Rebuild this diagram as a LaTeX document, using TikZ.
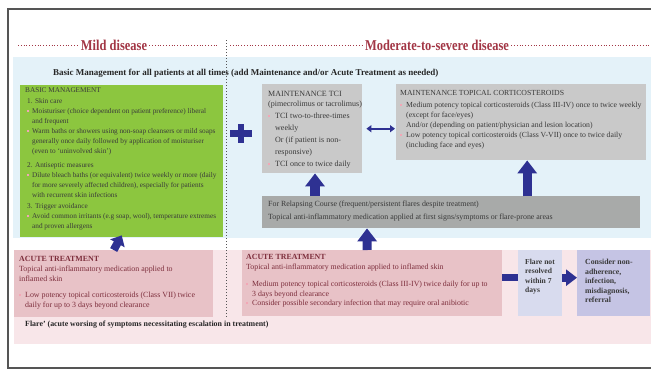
\documentclass[tikz,border=0pt]{standalone}
\usepackage{fontspec}
\usepackage{graphicx}
\setmainfont{Liberation Serif}
\usetikzlibrary{arrows.meta,calc}
\definecolor{framec}{HTML}{555555}
\definecolor{bluebg}{HTML}{E4F2F9}
\definecolor{greenc}{HTML}{8CC63F}
\definecolor{grayc}{HTML}{C9C9C9}
\definecolor{relc}{HTML}{A8AAA9}
\definecolor{pinkbg}{HTML}{F8E6E9}
\definecolor{acutec}{HTML}{E8C2C7}
\definecolor{lavA}{HTML}{D8DBEE}
\definecolor{lavB}{HTML}{C5C4E4}
\definecolor{navy}{HTML}{2E3192}
\definecolor{hdrred}{HTML}{A23645}
\definecolor{maroon}{HTML}{7D2E3C}
\definecolor{textc}{HTML}{3A3A3A}
\definecolor{bulc}{HTML}{F2A7B6}
\newcommand{\mybul}[1][5pt]{\makebox[#1][l]{\textcolor{bulc}{\rule[0.3ex]{2pt}{2pt}}}}
\newcommand{\hdrtext}[1]{\scalebox{0.83}[1]{#1}}
\begin{document}
\begin{tikzpicture}[x=1pt,y=-1pt,
  region/.style={draw=none,anchor=north west,inner sep=0pt},
  box/.style={draw=none,anchor=north west,inner sep=0pt},
  txt/.style={anchor=north west,inner sep=0pt,align=left,text=textc},
  hdr/.style={inner sep=2pt,text=hdrred,font=\fontsize{15}{16}\selectfont\bfseries},
  hdrdot/.style={draw=hdrred,dotted,line width=0.8pt},
  vdot/.style={draw=framec,dotted,line width=1pt},
  blockarrow/.style={draw=navy},
]
\useasboundingbox (0,0) rectangle (651,378);
% frame
\draw[framec,line width=1.2pt] (651,9) -- (8,9) -- (8,368) -- (651,368);

% background regions
\node[region,fill=bluebg,minimum width=638pt,minimum height=181pt] (blue) at (13,57) {};
\node[region,fill=pinkbg,minimum width=637pt,minimum height=94pt] (pink) at (14,250) {};

% headers
\node[hdr] (mild) at (114,45) {\hdrtext{Mild disease}};
\node[hdr] (mod) at (437,45) {\hdrtext{Moderate-to-severe disease}};
\coordinate (hl1) at (18,45);
\coordinate (hl2) at (218,45);
\coordinate (hr1) at (230,45);
\coordinate (hr2) at (651,45);
\draw[hdrdot] (hl1) -- (mild.west);
\draw[hdrdot] (mild.east) -- (hl2);
\draw[hdrdot] (hr1) -- (mod.west);
\draw[hdrdot] (mod.east) -- (hr2);

% title of basic management
\node[anchor=west,inner sep=0pt,text=black!85,font=\fontsize{9}{10}\selectfont\bfseries] (basic) at (53,73)
  {Basic Management for all patients at all times (add Maintenance and/or Acute Treatment as needed)};

% boxes
\node[box,fill=greenc,minimum width=203pt,minimum height=152pt] (green) at (20,85) {};
\node[box,fill=grayc,minimum width=100pt,minimum height=89pt] (tci) at (262,84) {};
\node[box,fill=grayc,minimum width=250pt,minimum height=76pt] (tcs) at (396,84) {};
\node[box,fill=relc,minimum width=378pt,minimum height=32pt] (relapse) at (262,196) {};
\node[box,fill=acutec,minimum width=199pt,minimum height=67pt] (acutemild) at (14,250) {};
\node[box,fill=acutec,minimum width=260pt,minimum height=66pt] (acutemod) at (242,250) {};
\node[box,fill=lavA,minimum width=44pt,minimum height=66pt] (flarebox) at (518,250) {};
\node[box,fill=lavB,minimum width=73pt,minimum height=66pt] (consider) at (577,250) {};

% vertical dotted divider
\coordinate (vd1) at (226,40);
\coordinate (vd2) at (226,317);
\draw[vdot] (vd1) -- (vd2);

% green text
\node[txt,font=\fontsize{7.25}{10}\selectfont] (greentxt) at (25,87) {BASIC MANAGEMENT\\[1pt]
\hspace*{2pt}1. Skin care\\
\hspace*{2pt}\mybul Moisturiser (choice dependent on patient preference) liberal\\
\hspace*{7pt}and frequent\\
\hspace*{2pt}\mybul Warm baths or showers using non-soap cleansers or mild soaps\\
\hspace*{7pt}generally once daily followed by application of moisturiser\\
\hspace*{7pt}(even to `uninvolved skin')\\[4pt]
\hspace*{2pt}2. Antiseptic measures\\
\hspace*{2pt}\mybul Dilute bleach baths (or equivalent) twice weekly or more (daily\\
\hspace*{7pt}for more severely affected children), especially for patients\\
\hspace*{7pt}with recurrent skin infections\\[1pt]
\hspace*{2pt}3. Trigger avoidance\\
\hspace*{2pt}\mybul Avoid common irritants (e.g soap, wool), temperature extremes\\
\hspace*{7pt}and proven allergens};

% TCI text
\node[txt,font=\fontsize{8}{12}\selectfont] (tcitxt) at (268,91) {MAINTENANCE TCI\\[-2pt]
(pimecrolimus or tacrolimus)\\
\mybul[7pt]TCI two-to-three-times\\
\hspace*{7pt}weekly\\
\hspace*{7pt}Or (if patient is non-\\
\hspace*{7pt}responsive)\\
\mybul[7pt]TCI once to twice daily};

% TCS text
\node[txt,font=\fontsize{7.75}{10}\selectfont] (tcstxt) at (400,90) {MAINTENANCE TOPICAL CORTICOSTEROIDS\\[2pt]
\mybul[6pt]Medium potency topical corticosteroids (Class III-IV) once to twice weekly\\
\hspace*{6pt}(except for face/eyes)\\
\hspace*{6pt}And/or (depending on patient/physician and lesion location)\\
\mybul[6pt]Low potency topical corticosteroids (Class V-VII) once to twice daily\\
\hspace*{6pt}(including face and eyes)};

% relapse text
\node[txt,font=\fontsize{7.9}{13}\selectfont] (reltxt) at (268,201) {For Relapsing Course (frequent/persistent flares despite treatment)\\
Topical anti-inflammatory medication applied at first signs/symptoms or flare-prone areas};

% acute mild text
\node[txt,text=maroon,font=\fontsize{7.9}{10}\selectfont] (amtxt) at (19,256) {\textbf{ACUTE TREATMENT}\\[0pt]
Topical anti-inflammatory medication applied to\\
inflamed skin\\[6pt]
\mybul[6pt]Low potency topical corticosteroids (Class VII) twice\\
\hspace*{6pt}daily for up to 3 days beyond clearance};

% acute moderate text
\node[txt,text=maroon,font=\fontsize{7.85}{10}\selectfont] (amodtxt) at (246,254) {\textbf{ACUTE TREATMENT}\\
Topical anti-inflammatory medication applied to inflamed skin\\[7pt]
\mybul[6pt]Medium potency topical corticosteroids (Class III-IV) twice daily for up to\\
\hspace*{6pt}3 days beyond clearance\\[-1pt]
\mybul[6pt]Consider possible secondary infection that may require oral anibiotic};

% flare text
\node[anchor=west,inner sep=0pt,text=black!85,font=\fontsize{7.9}{9}\selectfont\bfseries] (flaretxt) at (25,325)
  {Flare' (acute worsing of symptoms necessitating escalation in treatment)};

% flare not resolved / consider text
\node[txt,font=\fontsize{7.6}{9.5}\selectfont\bfseries] (fnrtxt) at (525,259) {Flare not\\resolved\\within 7\\days};
\node[txt,font=\fontsize{7.8}{9.5}\selectfont\bfseries] (constxt) at (585,259) {Consider non-\\adherence,\\infection,\\misdiagnosis,\\referral};

% plus sign
\fill[navy] (230,130) rectangle (252,136.5);
\fill[navy] (237.5,124) rectangle (244,143);

% connectors
\draw[blockarrow,line width=8pt,-{Triangle[width=16pt,length=9pt]}] (acutemild.north) -- ($(green.south)+(0,-2)$);
\draw[blockarrow,line width=10pt,-{Triangle[width=19pt,length=13pt]}] ($(relapse.north west)+(53,0)$) -- ($(tci.south west)+(53,0)$);
\draw[blockarrow,line width=9pt,-{Triangle[width=19pt,length=13pt]}] ($(tcs.south)+(6,36)$) -- ($(tcs.south)+(6,0)$);
\draw[blockarrow,line width=9pt,-{Triangle[width=19pt,length=13pt]}] ($(acutemod.north)+(-5,0)$) -- ($(relapse.south west)+(105,0)$);
\draw[navy,line width=2pt,{Triangle[width=7pt,length=5pt]}-{Triangle[width=7pt,length=5pt]},shorten <=4pt,shorten >=1pt] (tci.east) -- (tci.east -| tcs.west);
\draw[navy,line width=7pt] ($(acutemod.east)+(0,-5.5)$) -- ($(flarebox.west)+(0,-5.5)$);
\draw[blockarrow,line width=8pt,-{Triangle[width=16pt,length=11pt]}] ($(flarebox.east)+(0,-5.5)$) -- ($(consider.west)+(0,-5.5)$);
\end{tikzpicture}
\end{document}
